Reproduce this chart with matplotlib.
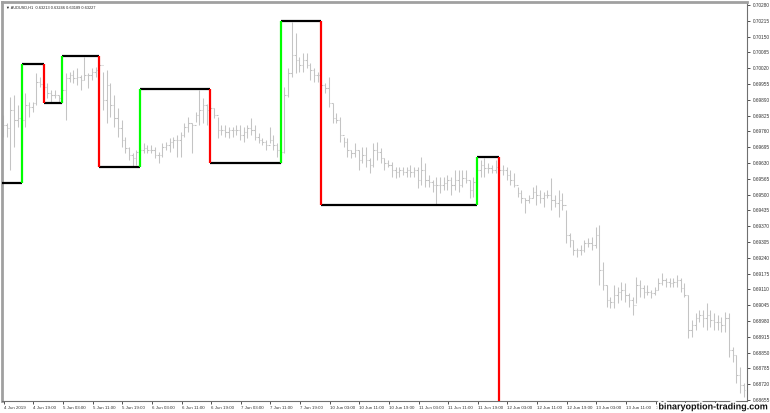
import numpy as np
import matplotlib
matplotlib.use("Agg")
import matplotlib.pyplot as plt
import matplotlib.patheffects as pe

# AUDUSD H1 bars, 4 Jun 2019 11:00 onwards (one value per hour)
highs = [
    0.69827, 0.69795, 0.69902, 0.69910, 0.69869, 0.69827, 0.69918, 0.69881, 0.69881, 0.70000,
    0.69984, 0.69963, 0.69959, 0.69930, 0.69930, 0.69910, 0.69939, 0.70000, 0.70004, 0.70013,
    0.70021, 0.69992, 0.70066, 0.70000, 0.70021, 0.70025, 0.70062, 0.70004, 0.70013, 0.69959,
    0.69910, 0.69856, 0.69807, 0.69737, 0.69696, 0.69671, 0.69684, 0.69696, 0.69712, 0.69704,
    0.69704, 0.69696, 0.69675, 0.69712, 0.69716, 0.69733, 0.69737, 0.69745, 0.69758, 0.69795,
    0.69819, 0.69795, 0.69840, 0.69930, 0.69897, 0.69873, 0.69889, 0.69856, 0.69819, 0.69786,
    0.69786, 0.69778, 0.69778, 0.69786, 0.69786, 0.69778, 0.69786, 0.69815, 0.69786, 0.69753,
    0.69733, 0.69725, 0.69778, 0.69745, 0.69712, 0.69692, 0.69943, 0.70021, 0.70210, 0.70165,
    0.70066, 0.70083, 0.70083, 0.70041, 0.70021, 0.70004, 0.70066, 0.69959, 0.69984, 0.69877,
    0.69836, 0.69819, 0.69737, 0.69733, 0.69684, 0.69712, 0.69684, 0.69696, 0.69696, 0.69651,
    0.69712, 0.69716, 0.69692, 0.69651, 0.69642, 0.69634, 0.69614, 0.69614, 0.69614, 0.69614,
    0.69622, 0.69614, 0.69614, 0.69655, 0.69630, 0.69581, 0.69560, 0.69572, 0.69572, 0.69572,
    0.69581, 0.69572, 0.69601, 0.69601, 0.69601, 0.69601, 0.69560, 0.69572, 0.69614, 0.69642,
    0.69651, 0.69630, 0.69622, 0.69642, 0.69614, 0.69622, 0.69614, 0.69601, 0.69589, 0.69531,
    0.69519, 0.69486, 0.69498, 0.69531, 0.69540, 0.69519, 0.69511, 0.69519, 0.69568, 0.69498,
    0.69519, 0.69507, 0.69437, 0.69342, 0.69313, 0.69280, 0.69293, 0.69313, 0.69321, 0.69326,
    0.69367, 0.69375, 0.69223, 0.69128, 0.69079, 0.69128, 0.69120, 0.69140, 0.69136, 0.69095,
    0.69079, 0.69161, 0.69149, 0.69128, 0.69128, 0.69108, 0.69120, 0.69157, 0.69177, 0.69157,
    0.69157, 0.69157, 0.69169, 0.69157, 0.69136, 0.69087, 0.68984, 0.69013, 0.69025, 0.69025,
    0.69054, 0.69025, 0.69013, 0.69005, 0.68996, 0.69017, 0.69013, 0.68873, 0.68840, 0.68791,
    0.68725,
]
lows = [
    0.69737, 0.69737, 0.69601, 0.69696, 0.69778, 0.69696, 0.69778, 0.69819, 0.69840, 0.69869,
    0.69943, 0.69930, 0.69897, 0.69881, 0.69897, 0.69877, 0.69877, 0.69807, 0.69963, 0.69959,
    0.69951, 0.69930, 0.69971, 0.69939, 0.69971, 0.69984, 0.69992, 0.69848, 0.69795, 0.69819,
    0.69778, 0.69737, 0.69696, 0.69671, 0.69642, 0.69614, 0.69622, 0.69663, 0.69671, 0.69671,
    0.69671, 0.69651, 0.69630, 0.69655, 0.69684, 0.69675, 0.69692, 0.69655, 0.69655, 0.69737,
    0.69758, 0.69671, 0.69799, 0.69786, 0.69795, 0.69786, 0.69819, 0.69815, 0.69733, 0.69745,
    0.69737, 0.69733, 0.69737, 0.69745, 0.69725, 0.69716, 0.69733, 0.69745, 0.69725, 0.69712,
    0.69704, 0.69684, 0.69712, 0.69684, 0.69655, 0.69630, 0.69671, 0.69902, 0.69984, 0.70000,
    0.70004, 0.70004, 0.70021, 0.69971, 0.69963, 0.69963, 0.69930, 0.69918, 0.69860, 0.69795,
    0.69795, 0.69716, 0.69696, 0.69655, 0.69651, 0.69655, 0.69601, 0.69630, 0.69614, 0.69589,
    0.69614, 0.69642, 0.69630, 0.69601, 0.69614, 0.69572, 0.69568, 0.69572, 0.69581, 0.69572,
    0.69572, 0.69572, 0.69527, 0.69540, 0.69531, 0.69531, 0.69511, 0.69457, 0.69507, 0.69519,
    0.69519, 0.69498, 0.69519, 0.69511, 0.69531, 0.69548, 0.69486, 0.69490, 0.69531, 0.69572,
    0.69572, 0.69589, 0.69589, 0.69589, 0.69589, 0.69581, 0.69560, 0.69540, 0.69531, 0.69490,
    0.69465, 0.69424, 0.69465, 0.69486, 0.69457, 0.69465, 0.69449, 0.69486, 0.69437, 0.69449,
    0.69408, 0.69437, 0.69301, 0.69284, 0.69252, 0.69243, 0.69252, 0.69264, 0.69284, 0.69272,
    0.69280, 0.69128, 0.69108, 0.69038, 0.69034, 0.69034, 0.69054, 0.69066, 0.69058, 0.69038,
    0.69005, 0.69054, 0.69079, 0.69075, 0.69087, 0.69075, 0.69087, 0.69108, 0.69128, 0.69120,
    0.69120, 0.69120, 0.69120, 0.69099, 0.69079, 0.68910, 0.68914, 0.68943, 0.68976, 0.68955,
    0.68943, 0.68955, 0.68943, 0.68943, 0.68935, 0.68935, 0.68832, 0.68811, 0.68725, 0.68684,
    0.68667,
]
closes = [
    0.69786, 0.69774, 0.69848, 0.69807, 0.69815, 0.69807, 0.69869, 0.69860, 0.69877, 0.69963,
    0.69955, 0.69943, 0.69918, 0.69910, 0.69910, 0.69897, 0.69930, 0.69980, 0.69992, 0.69980,
    0.69984, 0.69971, 0.69992, 0.69992, 0.70004, 0.70013, 0.70033, 0.69889, 0.69951, 0.69869,
    0.69815, 0.69774, 0.69725, 0.69692, 0.69663, 0.69651, 0.69675, 0.69684, 0.69692, 0.69684,
    0.69684, 0.69663, 0.69663, 0.69696, 0.69704, 0.69716, 0.69725, 0.69725, 0.69745, 0.69778,
    0.69795, 0.69786, 0.69827, 0.69848, 0.69869, 0.69848, 0.69856, 0.69827, 0.69766, 0.69766,
    0.69758, 0.69766, 0.69766, 0.69766, 0.69745, 0.69758, 0.69774, 0.69766, 0.69737, 0.69725,
    0.69716, 0.69704, 0.69725, 0.69704, 0.69684, 0.69675, 0.69910, 0.70000, 0.70074, 0.70054,
    0.70033, 0.70054, 0.70033, 0.70013, 0.69992, 0.69992, 0.69951, 0.69939, 0.69877, 0.69815,
    0.69807, 0.69745, 0.69716, 0.69684, 0.69671, 0.69684, 0.69642, 0.69663, 0.69642, 0.69622,
    0.69684, 0.69675, 0.69651, 0.69630, 0.69622, 0.69601, 0.69593, 0.69601, 0.69593, 0.69601,
    0.69593, 0.69601, 0.69560, 0.69601, 0.69560, 0.69552, 0.69540, 0.69540, 0.69540, 0.69548,
    0.69560, 0.69540, 0.69560, 0.69540, 0.69568, 0.69560, 0.69519, 0.69552, 0.69601, 0.69622,
    0.69609, 0.69609, 0.69601, 0.69614, 0.69601, 0.69601, 0.69581, 0.69560, 0.69540, 0.69507,
    0.69486, 0.69478, 0.69486, 0.69511, 0.69498, 0.69486, 0.69498, 0.69498, 0.69478, 0.69465,
    0.69478, 0.69457, 0.69334, 0.69313, 0.69272, 0.69272, 0.69272, 0.69301, 0.69301, 0.69293,
    0.69334, 0.69190, 0.69128, 0.69066, 0.69058, 0.69087, 0.69099, 0.69108, 0.69087, 0.69066,
    0.69046, 0.69128, 0.69116, 0.69099, 0.69099, 0.69095, 0.69108, 0.69136, 0.69149, 0.69140,
    0.69136, 0.69140, 0.69149, 0.69116, 0.69087, 0.68943, 0.68964, 0.68992, 0.69005, 0.68992,
    0.69005, 0.68984, 0.68976, 0.68976, 0.68964, 0.68992, 0.68861, 0.68840, 0.68758, 0.68717,
    0.68696,
]

# breakout levels (step line) and the bars where they switch
levels = [0.69548, 0.70037, 0.69877, 0.70070, 0.69614, 0.69934, 0.69630, 0.70214, 0.69457, 0.69655, 0.68600]
switch_bars = [5, 11, 16, 26, 37, 56, 75, 86, 128, 134]

time_labels = ["4 Jun 2019", "4 Jun 19:00", "5 Jun 03:00", "5 Jun 11:00", "5 Jun 19:00",
               "6 Jun 03:00", "6 Jun 11:00", "6 Jun 19:00", "7 Jun 03:00", "7 Jun 11:00",
               "7 Jun 19:00", "10 Jun 03:00", "10 Jun 11:00", "10 Jun 19:00", "11 Jun 03:00",
               "11 Jun 11:00", "11 Jun 19:00", "12 Jun 03:00", "12 Jun 11:00", "12 Jun 19:00",
               "13 Jun 03:00", "13 Jun 11:00", "13 Jun 19:00", "14 Jun 03:00", "14 Jun 11:00"]

plt.rcParams["font.family"] = ["Liberation Sans", "DejaVu Sans"]

n = len(highs)
idx = np.arange(n)
opens = np.r_[closes[0], closes[:-1]]

W, H = 770, 413
fig = plt.figure(figsize=(W / 100, H / 100), dpi=100)
ax = fig.add_axes([2 / W, 12 / H, 745 / W, 399 / H])

bar_col = "#c4c4c4"
ax.vlines(idx, lows, highs, color=bar_col, lw=0.75, zorder=2)
ax.hlines(opens, idx - 0.38, idx, color=bar_col, lw=0.75, zorder=2)
ax.hlines(closes, idx, idx + 0.38, color=bar_col, lw=0.75, zorder=2)

starts = [-1] + switch_bars[:-1]
for k in range(len(switch_bars)):
    ax.hlines(levels[k], starts[k], switch_bars[k], color="black", lw=1.6, zorder=3)
    up = levels[k + 1] > levels[k]
    ax.vlines(switch_bars[k], levels[k], levels[k + 1], color="#00ff00" if up else "#ff0000",
              lw=1.6, zorder=4)

ax.set_xlim(-0.27, 200.9)
ax.set_ylim(0.68651, 0.70292)

yt = np.round(0.68655 + 0.00065 * np.arange(26), 5)
ax.yaxis.tick_right()
ax.set_yticks(yt)
ax.set_yticklabels([f"{v:.5f}" for v in yt])
ax.tick_params(axis="y", direction="out", length=2.5, width=0.6, pad=1.5, labelsize=3.4,
               colors="#333333")

ax.set_xticks(np.arange(len(time_labels)) * 8 + 0.2)
ax.set_xticklabels(time_labels, ha="left")
ax.tick_params(axis="x", direction="out", length=2.5, width=0.6, pad=1.2, labelsize=3.2,
               colors="#333333")
for lab in ax.get_xticklabels():
    lab.set_x(lab.get_position()[0])

for s in ["left", "top"]:
    ax.spines[s].set_color("#a0a0a0")
    ax.spines[s].set_linewidth(2)
for s in ["right", "bottom"]:
    ax.spines[s].set_color("#707070")
    ax.spines[s].set_linewidth(0.8)

ax.text(0.006, 0.992, "▼ AUDUSD,H1  0.63213 0.63246 0.63189 0.63227", transform=ax.transAxes,
        ha="left", va="top", fontsize=2.8, color="#222222")

fig.text(0.997, 0.004, "binaryoption-trading.com", ha="right", va="bottom", fontsize=6.5,
         fontweight="bold", color="#111111",
         path_effects=[pe.withStroke(linewidth=2.5, foreground="white")], zorder=10)

fig.savefig("out.png", dpi=100, facecolor="white")
